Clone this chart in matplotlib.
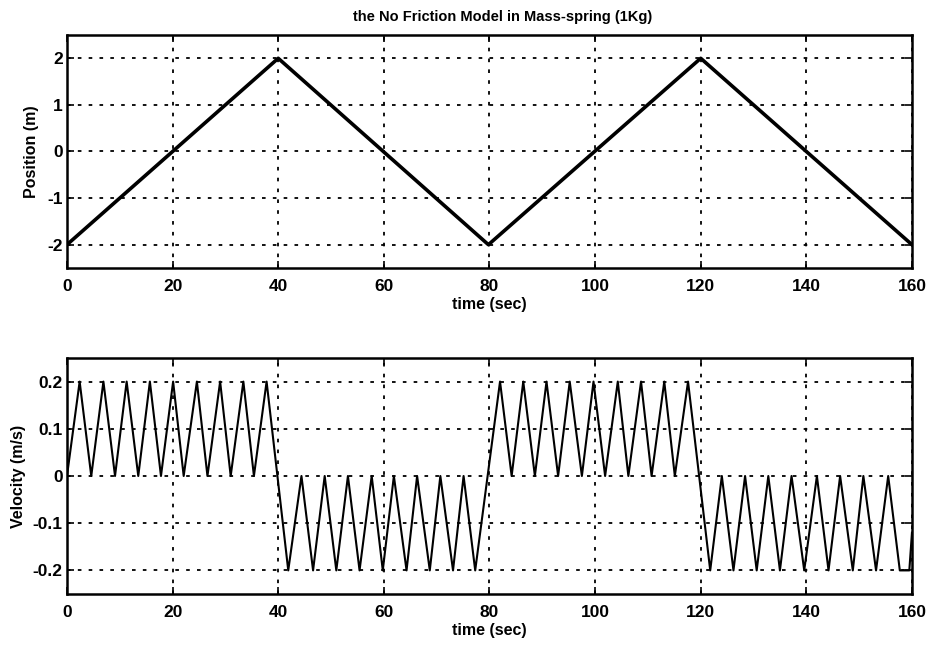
import matplotlib
matplotlib.use("Agg")
import matplotlib.pyplot as plt

# Position (triangle wave) vertices
pos_t = [0, 40, 79.8, 120, 160]
pos_v = [-2, 2, -2, 2, -2]

# Velocity extrema
vel_t = [0,
         2.4, 4.6, 6.9, 9.1, 11.3, 13.5, 15.7, 17.8, 20.1, 22.1, 24.6, 26.6, 29.0, 31.0, 33.4, 35.4, 37.8,
         41.9, 44.4, 46.6, 48.8, 51.0, 53.2, 55.4, 57.7, 59.8, 61.9, 64.3, 66.3, 68.7, 70.7, 73.1, 75.1, 77.3,
         82.0, 84.2, 86.4, 88.6, 90.8, 93.0, 95.2, 97.5, 99.7, 101.9, 104.3, 106.3, 108.7, 110.7, 113.1, 115.1, 117.6,
         121.8, 124.0, 126.2, 128.4, 130.6, 132.8, 135.0, 137.2, 139.6, 142.0, 144.2, 146.4, 148.8, 150.8, 153.2, 155.5, 157.7,
         159.5, 160]
vel_v = [0,
         0.2, 0, 0.2, 0, 0.2, 0, 0.2, 0, 0.2, 0, 0.2, 0, 0.2, 0, 0.2, 0, 0.2,
         -0.2, 0, -0.2, 0, -0.2, 0, -0.2, 0, -0.2, 0, -0.2, 0, -0.2, 0, -0.2, 0, -0.2,
         0.2, 0, 0.2, 0, 0.2, 0, 0.2, 0, 0.2, 0, 0.2, 0, 0.2, 0, 0.2, 0, 0.2,
         -0.2, 0, -0.2, 0, -0.2, 0, -0.2, 0, -0.2, 0, -0.2, 0, -0.2, 0, -0.2, 0, -0.2,
         -0.2, -0.12]

x_ticks = [0, 20, 40, 60, 80, 100, 120, 140, 160]
pos_ticks = [-2, -1, 0, 1, 2]
vel_ticks = [-0.2, -0.1, 0, 0.1, 0.2]
vel_tick_labels = ["-0.2", "-0.1", "0", "0.1", "0.2"]

plt.rcParams['font.family'] = ['Liberation Sans', 'DejaVu Sans']
plt.rcParams['font.weight'] = 'bold'

fig = plt.figure(figsize=(9.34, 6.47), dpi=100)
ax1 = fig.add_axes([0.0717, 0.5858, 0.9047, 0.3601])
ax2 = fig.add_axes([0.0717, 0.0819, 0.9047, 0.3648])

grid_kw = dict(color='black', linestyle=(0, (2.0, 4.0)), linewidth=1.3)

def style(ax):
    for s in ax.spines.values():
        s.set_linewidth(1.8)
    ax.tick_params(direction='in', length=5, width=1.2, top=True, right=True,
                   labelsize=12.5, pad=8)
    ax.tick_params(axis='y', pad=3)
    for lab in ax.get_xticklabels() + ax.get_yticklabels():
        lab.set_fontweight('bold')
    ax.grid(True, **grid_kw)
    ax.set_axisbelow(True)

ax1.plot(pos_t, pos_v, color='black', linewidth=2.6)
ax1.set_xlim(0, 160)
ax1.set_ylim(-2.5, 2.5)
ax1.set_xticks(x_ticks)
ax1.set_yticks(pos_ticks)
ax1.set_xticklabels([str(v) for v in x_ticks])
ax1.set_yticklabels([str(v) for v in pos_ticks])
style(ax1)
ax1.set_title("the No Friction Model in Mass-spring (1Kg)", fontsize=10.5,
              fontweight='bold', pad=10, x=0.515)
ax1.set_xlabel("time (sec)", fontsize=11.5, fontweight='bold', labelpad=2)
ax1.set_ylabel("Position (m)", fontsize=11.5, fontweight='bold', labelpad=6)

ax2.plot(vel_t, vel_v, color='black', linewidth=1.5)
ax2.set_xlim(0, 160)
ax2.set_ylim(-0.25, 0.25)
ax2.set_xticks(x_ticks)
ax2.set_yticks(vel_ticks)
ax2.set_xticklabels([str(v) for v in x_ticks])
ax2.set_yticklabels(vel_tick_labels)
style(ax2)
ax2.set_xlabel("time (sec)", fontsize=11.5, fontweight='bold', labelpad=2)
ax2.set_ylabel("Velocity (m/s)", fontsize=11.5, fontweight='bold', labelpad=5)

fig.savefig("out.png", dpi=100)
